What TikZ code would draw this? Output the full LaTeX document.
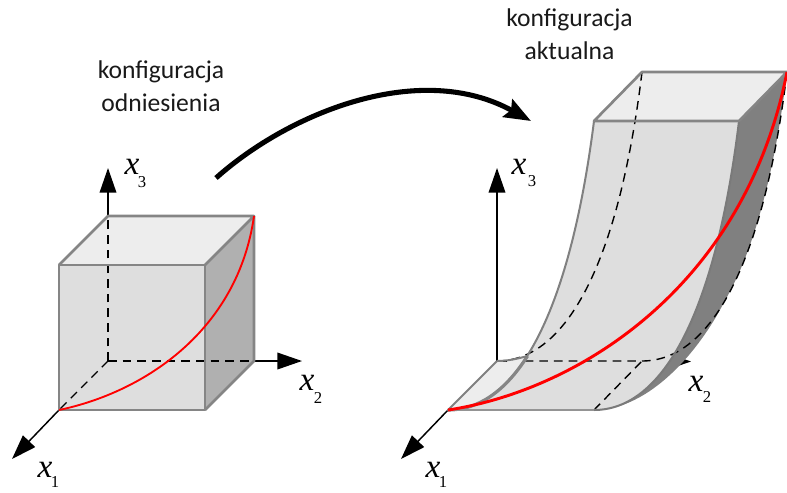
\documentclass[tikz,border=0pt]{standalone}
\usepackage{fontspec}
\setmainfont{Carlito}
\newfontfamily\mathser{Liberation Serif}
\usetikzlibrary{arrows.meta}
\tikzset{
  x=0.75pt,y=-0.75pt,
  edge/.style={draw=black!48,line width=2pt,line join=round},
  thinedge/.style={draw=black!50,line width=1.5pt,line join=round},
  axisline/.style={draw=black,line width=1.1pt,-{Triangle[length=18.5pt,width=12.5pt]}},
  hidden/.style={draw=black,line width=1.05pt,dash pattern=on 6.5pt off 4.5pt},
  redline/.style={draw=red},
  caption/.style={font=\fontsize{19.2pt}{24.5pt}\selectfont,align=center,text=black!90},
  axlabel/.style={inner sep=0pt,font=\mathser\itshape\fontsize{25pt}{25pt}\selectfont},
  axsub/.style={inner sep=0pt,font=\mathser\fontsize{12.5pt}{12.5pt}\selectfont},
}
\definecolor{facefront}{gray}{0.87}
\definecolor{facetop}{gray}{0.93}
\definecolor{faceside}{gray}{0.69}
\definecolor{facedark}{gray}{0.5}
\begin{document}
\begin{tikzpicture}
\useasboundingbox (0,0) rectangle (787,492);
% left cube
\coordinate (o) at (108,361);
\coordinate (xe) at (302,361);
\coordinate (ye) at (108,168);
\coordinate (ze) at (12,459);
\coordinate (fbl) at (59,410);
\coordinate (fbr) at (205,410);
\coordinate (ftl) at (59,265);
\coordinate (ftr) at (205,265);
\coordinate (bbr) at (254,361);
\coordinate (btl) at (108,216);
\coordinate (btr) at (254,216);
\draw[axisline] (btl) -- (ye);
\draw[axisline] (bbr) -- (xe);
\draw[axisline] (fbl) -- (ze);
\fill[facefront] (ftl) rectangle (fbr);
\fill[facetop] (ftl) -- (btl) -- (btr) -- (ftr) -- cycle;
\fill[faceside] (ftr) -- (btr) -- (bbr) -- (fbr) -- cycle;
\draw[hidden] (o) -- (btl);
\draw[hidden] (o) -- (bbr);
\draw[hidden] (o) -- (fbl);
\draw[edge] (ftl) rectangle (fbr);
\draw[edge] (ftl) -- (btl) -- (btr) -- (ftr);
\draw[edge] (btr) -- (bbr) -- (fbr);
\draw[redline,line width=1.4pt] (fbl) .. controls (145,392) and (238,330) .. (btr);
\node[axlabel] (lx3) at (132,167) {x};
\node[axsub] (lx3s) at (142,182) {3};
\node[axlabel] (lx2) at (307,383) {x};
\node[axsub] (lx2s) at (318,398) {2};
\node[axlabel] (lx1) at (45,470) {x};
\node[axsub] (lx1s) at (55,482) {1};
% right
\coordinate (o2) at (497,361);
\coordinate (ye2) at (497,168);
\coordinate (xe2) at (691,361.5);
\coordinate (ze2) at (401,459);
\coordinate (a) at (448,410);
\coordinate (b) at (594,410);
\coordinate (c) at (594,121);
\coordinate (d) at (739,121);
\coordinate (e) at (642,72);
\coordinate (f) at (787,72);
\coordinate (g) at (642,361);
\coordinate (h) at (527.5,356);
\coordinate (s2) at (724.6,301.1);
\coordinate (k) at (523,361);
\coordinate (m) at (507,361);
\draw[axisline] (o2) -- (ye2);
\draw[axisline] (o2) -- (xe2);
\draw[axisline] (a) -- (ze2);
% dark side
\fill[facedark] (d) .. controls (716,310) and (664,410) .. (b) .. controls (650,410) and (700,350) .. (s2) .. controls (752.9,252.7) and (774.35,175.95) .. (f) -- cycle;
% faces
\fill[facefront] (a) -- (b) .. controls (664,410) and (716,310) .. (d) -- (c) .. controls (570,310) and (518,410) .. (a) -- cycle;
\fill[facetop] (c) -- (e) -- (f) -- (d) -- cycle;
\fill[facetop] (a) -- (o2) .. controls (507.5,361) and (517.6,358.75) .. (h) .. controls (504.9,391.5) and (478.1,410) .. (a) -- cycle;
\draw[hidden] (e) .. controls (619,261) and (567,361) .. (o2);
\draw[hidden] (f) .. controls (764,261) and (712,361) .. (g) -- (k);
\draw[hidden] (b) -- (g);
\draw[draw=black,line width=1.1pt] (o2) -- (m);
\draw[thinedge] (c) .. controls (570,310) and (518,410) .. (a) -- (o2);
\draw[edge,line width=2.4pt] (h) .. controls (504.9,391.5) and (478.1,410) .. (a);
\draw[thinedge] (o2) .. controls (507.5,361) and (517.6,358.75) .. (h);
\draw[edge,draw=black!42] (a) -- (b);
\draw[thinedge,draw=facefront!55!black] (b) .. controls (664,410) and (716,310) .. (d);
\draw[edge] (c) -- (d) -- (f) -- (e) -- cycle;
\draw[redline,line width=2.2pt] (a) .. controls (580,390) and (745,285) .. (f);
\node[axlabel] (rx3) at (519,167) {x};
\node[axsub] (rx3s) at (532,181) {3};
\node[axlabel] (rx2) at (696,384) {x};
\node[axsub] (rx2s) at (707,397) {2};
\node[axlabel] (rx1) at (433,470) {x};
\node[axsub] (rx1s) at (443,482) {1};
% big arrow
\coordinate (s) at (216,178);
\coordinate (t) at (531,121);
\draw[line width=3.8pt,-{Stealth[length=20pt,width=15pt,inset=3pt]}] (s) .. controls (290,112) and (420,60) .. (t);
\node[caption] (c1) at (161,86) {konfiguracja\\odniesienia};
\node[caption] (c2) at (569.5,34) {konfiguracja\\aktualna};
\end{tikzpicture}
\end{document}
